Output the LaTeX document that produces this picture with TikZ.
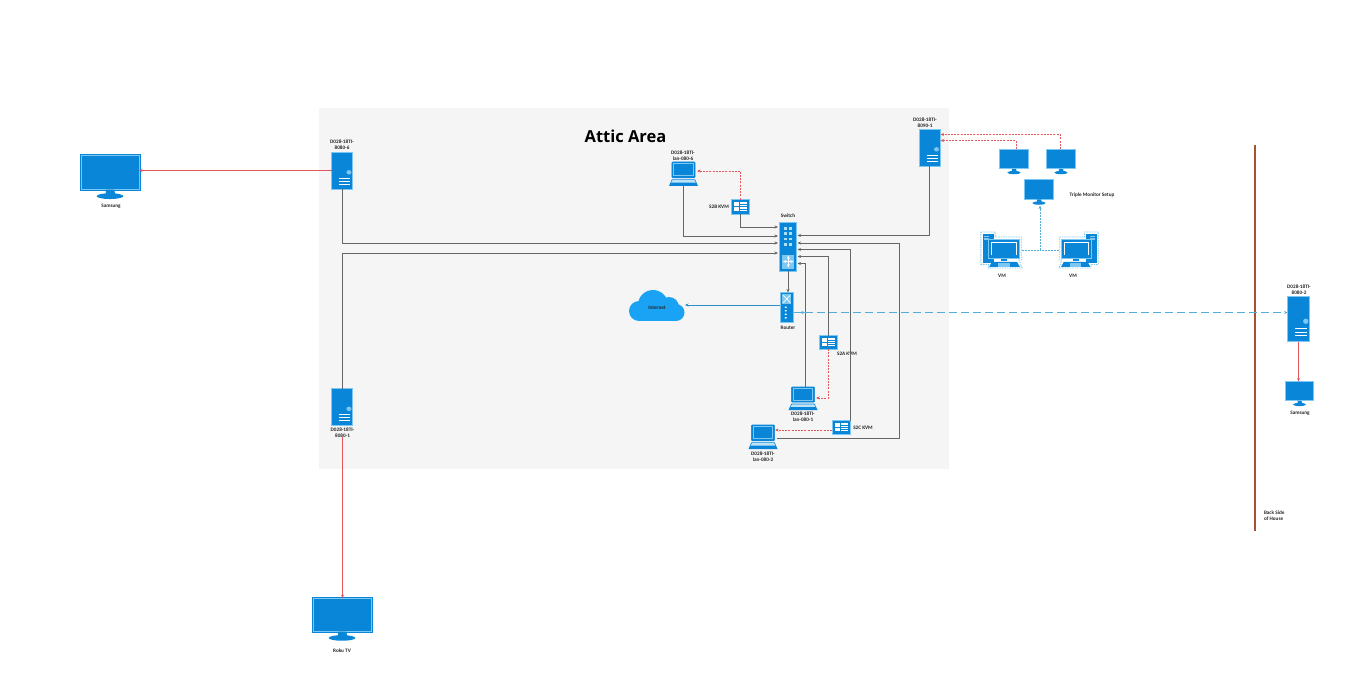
\documentclass[tikz,border=0pt]{standalone}
\usepackage{fontspec}
\setmainfont{Carlito}
\newfontfamily\titlefont{Open Sans}
\usetikzlibrary{arrows.meta,calc}

\definecolor{iconblue}{HTML}{0A86D8}
\definecolor{iconlight}{HTML}{7CC8F2}
\definecolor{cloudblue}{HTML}{1AA3F5}
\definecolor{wiregray}{HTML}{666666}
\definecolor{redwire}{HTML}{E2575B}
\definecolor{dashblue}{HTML}{55ACD8}
\definecolor{inetblue}{HTML}{2E8FC4}
\definecolor{wallbrown}{HTML}{A5532F}
\definecolor{atticgray}{HTML}{F5F5F5}

\tikzset{
  >={Stealth[length=3.5pt,width=3pt]},
  every node/.style={font=\fontsize{5.2}{6}\selectfont\bfseries, text=black!85, inner sep=0pt, outer sep=0pt},
  wire/.style={wiregray, line width=.9pt},
  hdmi/.style={redwire, line width=.6pt},
  kvmlink/.style={redwire, line width=.7pt, dash pattern=on 2pt off 1.2pt},
  vmlink/.style={dashblue, line width=.9pt, dash pattern=on 2pt off 1pt},
  lanlink/.style={dashblue, line width=.9pt, dash pattern=on 8pt off 4pt},
  inetlink/.style={inetblue, line width=.7pt},
  iconbox/.style={fill=iconblue, draw=iconlight, line width=.8pt},
  icondetail/.style={white, line width=.7pt},
  lbl/.style={align=center}
}

% name, left, top, width, height
\newcommand{\servericon}[5]{
  \begin{scope}[shift={(#2,#3)},xscale=#4,yscale=#5]
    \node[iconbox, minimum width=#4pt, minimum height=#5pt] (#1) at (.5,.5) {};
    \fill[iconlight] (.83,.55) circle [x radius=.12, y radius=.06];
    \draw[icondetail] (.35,.71) -- (.88,.71);
    \draw[icondetail] (.35,.79) -- (.88,.79);
    \draw[icondetail] (.35,.87) -- (.88,.87);
  \end{scope}
}
% name, left, top, width, height of the screen
\newcommand{\monitoricon}[5]{
  \begin{scope}[shift={(#2,#3)},xscale=#4,yscale=#5]
    \node[iconbox, minimum width=#4pt, minimum height=#5pt] (#1) at (.5,.5) {};
    \fill[iconblue] (.43,1.02) -- (.57,1.02) -- (.6,1.18) -- (.43,1.18) -- cycle;
    \fill[iconblue] (.5,1.21) circle [x radius=.23, y radius=.085];
  \end{scope}
}
\newcommand{\bigframe}[1]{
  \draw[iconblue, line width=.7pt] ([shift={(-1,1)}]#1.south west) rectangle ([shift={(1,-1)}]#1.north east);
}
\newcommand{\laptopicon}[5]{
  \begin{scope}[shift={(#2,#3)},xscale=#4,yscale=#5]
    \node[minimum width=#4pt, minimum height=#5pt] (#1) at (.5,.5) {};
    \filldraw[fill=iconblue, draw=iconblue, line width=.6pt, rounded corners=1pt] (.1,0) rectangle (.9,.66);
    \fill[iconlight] (.15,.06) rectangle (.85,.6);
    \fill[iconblue] (.18,.1) rectangle (.82,.55);
    \fill[iconblue] (.1,.72) -- (.9,.72) -- (1,1) -- (0,1) -- cycle;
    \fill[iconlight!50!white] (.12,.76) -- (.88,.76) -- (.93,.86) -- (.07,.86) -- cycle;
  \end{scope}
}
\newcommand{\kvmicon}[5]{
  \begin{scope}[shift={(#2,#3)},xscale=#4,yscale=#5]
    \node[iconbox, minimum width=#4pt, minimum height=#5pt] (#1) at (.5,.5) {};
    \fill[white] (.14,.2) rectangle (.86,.8);
    \draw[iconblue, line width=.6pt] (.42,.2) -- (.42,.8);
    \draw[iconblue, line width=.6pt] (.14,.5) -- (.86,.5);
    \draw[iconblue, line width=.6pt] (.42,.35) -- (.86,.35);
    \draw[iconblue, line width=.6pt] (.42,.65) -- (.86,.65);
  \end{scope}
}
\newcommand{\switchicon}[5]{
  \begin{scope}[shift={(#2,#3)},xscale=#4,yscale=#5]
    \node[iconbox, minimum width=#4pt, minimum height=#5pt] (#1) at (.5,.5) {};
    \foreach \r in {.12,.23,.34,.45}{
      \draw[iconlight!60!white, line width=2.4pt] (.28,\r) -- (.45,\r);
      \draw[iconlight!60!white, line width=2.4pt] (.55,\r) -- (.72,\r);
    }
    \fill[iconlight] (.16,.66) rectangle (.88,.95);
    \draw[icondetail,<->] (.52,.68) -- (.52,.93);
    \draw[icondetail,<->] (.2,.805) -- (.84,.805);
  \end{scope}
}
\newcommand{\routericon}[5]{
  \begin{scope}[shift={(#2,#3)},xscale=#4,yscale=#5]
    \node[iconbox, minimum width=#4pt, minimum height=#5pt] (#1) at (.5,.5) {};
    \fill[iconlight] (.14,.06) rectangle (.86,.38);
    \draw[icondetail] (.22,.1) -- (.78,.34);
    \draw[icondetail] (.22,.34) -- (.78,.1);
    \foreach \r in {.5,.62,.74,.86}{
      \fill[white] (.42,\r) circle [x radius=.1, y radius=.03];
    }
  \end{scope}
}
% width may be negative for a mirrored one
\newcommand{\vmicon}[5]{
  \begin{scope}[shift={(#2,#3)},xscale=#4,yscale=#5]
    \node[minimum width={abs(#4)*1pt}, minimum height=#5pt] (#1) at (.5,.5) {};
    \draw[iconlight, line width=.8pt, dash pattern=on 1.5pt off 1pt] (.02,0) -- (.36,0) -- (.36,.14) -- (.98,.14) -- (.98,.78) -- (.93,.78) -- (1,1) -- (.2,1) -- (.2,.9) -- (.02,.9) -- cycle;
    \fill[iconblue] (.06,.05) rectangle (.33,.86);
    \fill[iconlight] (.1,.1) rectangle (.22,.14);
    \fill[iconlight] (.1,.18) rectangle (.22,.22);
    \filldraw[fill=iconblue, draw=iconlight, line width=.8pt] (.2,.2) rectangle (.94,.72);
    \fill[white] (.26,.27) rectangle (.88,.65);
    \fill[iconblue] (.28,.3) rectangle (.86,.63);
    \fill[iconblue] (.5,.74) rectangle (.64,.8);
    \fill[iconblue] (.28,.83) -- (.88,.83) -- (.95,.97) -- (.22,.97) -- cycle;
    \fill[iconlight] (.44,.86) rectangle (.72,.96);
  \end{scope}
}

\begin{document}
\begin{tikzpicture}[x=1pt,y=-1pt]
\useasboundingbox (0,0) rectangle (1366,690);
        % attic
        \fill[atticgray] (319,108) rectangle (949,469);
        \node[font=\titlefont\fontsize{16.5}{20}\selectfont\bfseries, text=black] (atticTitle) at (625.5,136) {Attic Area};

        % back of the house
        \coordinate (wallTop) at (1255,145);
        \coordinate (wallEnd) at (1255,531);
        \draw[wallbrown, line width=1.8pt] (wallTop) -- (wallEnd);
        \node[lbl, align=left, anchor=north west] (wallLabel) at (1264,511) {Back Side\\of House};

        % desktops
        \servericon{srvSix}{331.5}{152}{21}{37}
        \servericon{srvOne}{919.5}{129}{20.5}{37}
        \servericon{srvAtt}{331.5}{388.5}{21}{37}
        \servericon{srvBack}{1287.5}{296.5}{22}{45}
        \node[lbl] (srvSixLabel) at (342,144.5) {D028-18TI-\\8080-6};
        \node[lbl] (srvOneLabel) at (925,122.5) {D028-18TI-\\8090-1};
        \node[lbl] (srvAttLabel) at (342.5,432.5) {D028-18TI-\\8080-1};
        \node[lbl] (srvBackLabel) at (1299,290) {D028-18TI-\\8080-2};

        % screens
        \monitoricon{tvSamsung}{81}{155}{58}{34}
        \bigframe{tvSamsung}
        \monitoricon{tvRoku}{313}{598}{58}{33}
        \bigframe{tvRoku}
        \monitoricon{tvBack}{1285.5}{381.5}{28}{19}
        \monitoricon{dispA}{999.5}{149}{29}{19.5}
        \monitoricon{dispB}{1046.5}{149}{29}{19.5}
        \monitoricon{dispC}{1024.5}{179.5}{29}{19.5}
        \node (tvSamsungLabel) at (111,206) {Samsung};
        \node (tvRokuLabel) at (342,651) {Roku TV};
        \node (tvBackLabel) at (1300,413.5) {Samsung};
        \node (dispLabel) at (1092,195.5) {Triple Monitor Setup};

        % vm hosts
        \vmicon{vmLeft}{980}{232}{42}{36}
        \vmicon{vmRight}{1099}{232}{-40}{36}
        \node (vmLeftLabel) at (1002,276) {VM};
        \node (vmRightLabel) at (1073,276) {VM};

        % laptops
        \laptopicon{lapSix}{669}{162}{29}{24}
        \laptopicon{lapOne}{788.5}{387}{29}{23}
        \laptopicon{lapTwo}{748.5}{425}{29}{24}
        \node[lbl] (lapSixLabel) at (683,156) {D028-18TI-\\lan-080-6};
        \node[lbl] (lapOneLabel) at (803,416.5) {D028-18TI-\\lan-080-1};
        \node[lbl] (lapTwoLabel) at (763,457) {D028-18TI-\\lan-080-2};

        % kvm boxes
        \kvmicon{kvmB}{731.5}{199.5}{18}{14.5}
        \kvmicon{kvmA}{819.5}{335.5}{18}{13.5}
        \kvmicon{kvmC}{832.5}{420.5}{18}{13.5}
        \node (kvmBLabel) at (719,206.5) {S2B KVM};
        \node (kvmALabel) at (847,353.5) {S2A KVM};
        \node (kvmCLabel) at (863,427.5) {S2C KVM};

        % network gear
        \switchicon{swMain}{779.5}{222.5}{17}{48.5}
        \routericon{rtMain}{780.5}{292.5}{12.5}{29.5}
        \node (swLabel) at (788,216) {Switch};
        \node (rtLabel) at (788,328) {Router};

        % cloud
        \fill[cloudblue] (639,311) circle (10pt);
        \fill[cloudblue] (653,305) circle (15pt);
        \fill[cloudblue] (669,307) circle (10pt);
        \fill[cloudblue] (676,312.5) circle (8.5pt);
        \fill[cloudblue] (639,305) rectangle (677,321);
        \node (inetCloud) at (657,308) {Internet};
        \coordinate (cloudEdge) at (685,305);

        % switch ports
        \coordinate (swL1) at (778,227);
        \coordinate (swL2) at (778,236);
        \coordinate (swL3) at (778,243);
        \coordinate (swL4) at (778,253);
        \coordinate (swR1) at (797.5,235.5);
        \coordinate (swR2) at (797.5,243);
        \coordinate (swR3) at (797.5,249.5);
        \coordinate (swR4) at (797.5,256.5);
        \coordinate (swR5) at (797.5,263.5);

        % lan
        \draw[wire,->] (kvmB.south) |- (swL1);
        \draw[wire,->] (lapSix.south) |- (swL2);
        \draw[wire,->] (srvSix.south) |- (swL3);
        \draw[wire,->] (srvAtt.north) |- (swL4);
        \draw[wire,->] (srvOne.south) |- (swR1);
        \coordinate (lapTwoEdge) at (777,438.5);
        \coordinate (lapTwoTurn) at (899,243);
        \draw[wire,->] (lapTwoEdge) -| (lapTwoTurn) -- (swR2);
        \draw[wire,->] ([xshift=9]kvmC.north) |- (swR3);
        \draw[wire,->] (kvmA.north) |- (swR4);
        \draw[wire,->] ([xshift=2]lapOne.north) |- (swR5);
        \draw[wire,->] (swMain.south) -- (swMain.south |- rtMain.north);

        % router
        \coordinate (rtLeft) at (780,305);
        \coordinate (rtRight) at (793.5,312.5);
        \coordinate (rtMark) at (805,312.5);
        \draw[inetlink,->] (rtLeft) -- (cloudEdge);
        \draw[lanlink,->] (rtMark) -- (rtMark -| srvBack.west);
        \draw[dashblue, line width=.7pt,->] (rtRight) -- (rtMark);

        % video
        \draw[hdmi,->] (srvSix.west) -- (srvSix.west -| tvSamsung.east);
        \draw[hdmi,->] (srvAttLabel.south) -- (srvAttLabel.south |- tvRoku.north);
        \draw[hdmi,->] (srvBack.south) -- (srvBack.south |- tvBack.north);

        % kvm to laptop
        \coordinate (lapSixEdge) at (697,171);
        \coordinate (lapOneEdge) at (816,398);
        \coordinate (kvmCSide) at (832,430);
        \coordinate (lapTwoSide) at (775,430);
        \draw[kvmlink,->] (kvmB.north) |- (lapSixEdge);
        \draw[kvmlink,->] (kvmA.south) |- (lapOneEdge);
        \draw[kvmlink,->] (kvmCSide) -- (lapTwoSide);

        % triple monitor
        \coordinate (srvOneUp) at (940.5,134.5);
        \coordinate (srvOneLow) at (940.5,140.5);
        \draw[kvmlink,->] ([xshift=2]dispA.north) |- (srvOneLow);
        \draw[kvmlink,->] ([xshift=-1]dispB.north) |- (srvOneUp);
        \coordinate (vmJoin) at (1040,250);
        \coordinate (dispFoot) at (1040,205.5);
        \draw[vmlink] (vmLeft.east) -- (vmJoin);
        \draw[vmlink] (vmRight.west) -- (vmJoin);
        \draw[vmlink,->] (vmJoin) -- (dispFoot);
\end{tikzpicture}
\end{document}
